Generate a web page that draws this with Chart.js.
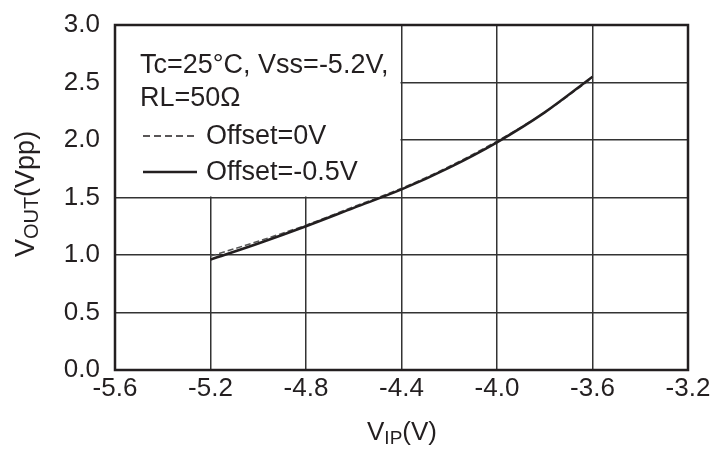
<!DOCTYPE html>
<html>
<head>
<meta charset="utf-8">
<script src="https://cdn.jsdelivr.net/npm/chart.js@4.4.1/dist/chart.umd.min.js"></script>
<style>
  html, body { margin: 0; padding: 0; background: #fff; }
  canvas { display: block; }
</style>
</head>
<body>
<canvas id="chart" width="713" height="465"></canvas>
<script>
// values
const vipValues = [-5.2, -5.0, -4.8, -4.6, -4.4, -4.2, -4.0, -3.8, -3.6];
const offset0V = [0.99, 1.12, 1.26, 1.42, 1.58, 1.77, 1.99, 2.24, 2.54];
const offsetNeg05V = [0.96, 1.10, 1.25, 1.41, 1.57, 1.76, 1.98, 2.24, 2.55];
const xTicks = [-5.6, -5.2, -4.8, -4.4, -4.0, -3.6, -3.2];
const yTicks = [0.0, 0.5, 1.0, 1.5, 2.0, 2.5, 3.0];
const legendNote = ['Tc=25\u00B0C, Vss=-5.2V,', 'RL=50\u03A9'];
const seriesNames = ['Offset=0V', 'Offset=-0.5V'];

const FONT = '"Liberation Sans", Arial, Helvetica, sans-serif';
const INK = '#231f20';

function toPoints(xs, ys) {
    return xs.map((x, i) => ({ x: x, y: ys[i] }));
}

// draws text made of [text, isSub] parts, centred on cx, baseline 0
function drawParts(ctx, parts, cx, size, subSize) {
    let total = 0;
    parts.forEach(p => {
        ctx.font = (p[1] ? subSize : size) + 'px ' + FONT;
        total += ctx.measureText(p[0]).width;
    });
    let x = cx - total / 2;
    parts.forEach(p => {
        ctx.font = (p[1] ? subSize : size) + 'px ' + FONT;
        ctx.fillText(p[0], x, p[1] ? 4 : 0);
        x += ctx.measureText(p[0]).width;
    });
}

const decorPlugin = {
    id: 'decor',
    beforeDatasetsDraw(chart) {
        // white note box that hides the grid in the upper left
        const { ctx, chartArea, scales } = chart;
        const xm = scales.x.getPixelForValue(-4.4);
        const ym = scales.y.getPixelForValue(1.5);
        ctx.save();
        ctx.fillStyle = '#fff';
        ctx.fillRect(chartArea.left + 1, chartArea.top + 1, xm - chartArea.left - 2, ym - chartArea.top - 2);
        ctx.restore();
    },
    afterDraw(chart) {
        const { ctx, chartArea } = chart;
        ctx.save();
        // frame
        ctx.strokeStyle = INK;
        ctx.lineWidth = 2.5;
        ctx.strokeRect(chartArea.left, chartArea.top, chartArea.right - chartArea.left, chartArea.bottom - chartArea.top);

        // note + legend
        ctx.fillStyle = INK;
        ctx.textBaseline = 'alphabetic';
        ctx.font = '27px ' + FONT;
        ctx.fillText(legendNote[0], 140, 73);
        ctx.fillText(legendNote[1], 140, 106);
        ctx.fillText(seriesNames[0], 206, 144);
        ctx.fillText(seriesNames[1], 206, 180);

        ctx.strokeStyle = INK;
        ctx.lineWidth = 1.5;
        ctx.setLineDash([7, 4]);
        ctx.beginPath();
        ctx.moveTo(143, 136);
        ctx.lineTo(197, 136);
        ctx.stroke();
        ctx.setLineDash([]);
        ctx.lineWidth = 2.5;
        ctx.beginPath();
        ctx.moveTo(143, 172);
        ctx.lineTo(197, 172);
        ctx.stroke();

        // axis titles with subscripts
        ctx.save();
        ctx.translate(0, 440);
        drawParts(ctx, [['V', false], ['IP', true], ['(V)', false]], 402, 26, 19);
        ctx.restore();

        ctx.save();
        ctx.translate(34, 194);
        ctx.rotate(-Math.PI / 2);
        drawParts(ctx, [['V', false], ['OUT', true], ['(Vpp)', false]], 0, 27, 20);
        ctx.restore();

        ctx.restore();
    }
};

new Chart(document.getElementById('chart'), {
    type: 'line',
    data: {
        datasets: [
            {
                label: seriesNames[1],
                data: toPoints(vipValues, offsetNeg05V),
                borderColor: INK,
                borderWidth: 2.5,
                pointRadius: 0,
                cubicInterpolationMode: 'monotone',
                order: 0
            },
            {
                label: seriesNames[0],
                data: toPoints(vipValues, offset0V),
                borderColor: '#555',
                borderWidth: 1.5,
                borderDash: [6, 3],
                pointRadius: 0,
                cubicInterpolationMode: 'monotone',
                order: 1
            }
        ]
    },
    options: {
        responsive: false,
        animation: false,
        layout: {
            padding: { top: 25, right: 25, left: 0, bottom: 0 }
        },
        plugins: {
            legend: { display: false },
            tooltip: { enabled: false }
        },
        scales: {
            x: {
                type: 'linear',
                min: xTicks[0],
                max: xTicks[xTicks.length - 1],
                afterBuildTicks: scale => {
                    scale.ticks = xTicks.map(v => ({ value: v }));
                },
                afterFit: scale => {
                    scale.height = 95;
                    scale.paddingLeft = 0;
                    scale.paddingRight = 0;
                },
                grid: { color: '#333', lineWidth: 1.5, drawTicks: false },
                border: { display: false },
                ticks: {
                    autoSkip: false,
                    maxRotation: 0,
                    padding: 3,
                    color: INK,
                    font: { family: FONT, size: 26 },
                    callback: v => Number(v).toFixed(1)
                }
            },
            y: {
                min: yTicks[0],
                max: yTicks[yTicks.length - 1],
                afterBuildTicks: scale => {
                    scale.ticks = yTicks.map(v => ({ value: v }));
                },
                afterFit: scale => {
                    scale.width = 115;
                    scale.paddingTop = 0;
                    scale.paddingBottom = 0;
                },
                grid: { color: '#333', lineWidth: 1.5, drawTicks: false },
                border: { display: false },
                ticks: {
                    padding: 15,
                    color: INK,
                    font: { family: FONT, size: 26 },
                    callback: v => Number(v).toFixed(1)
                }
            }
        }
    },
    plugins: [decorPlugin]
});
</script>
</body>
</html>
